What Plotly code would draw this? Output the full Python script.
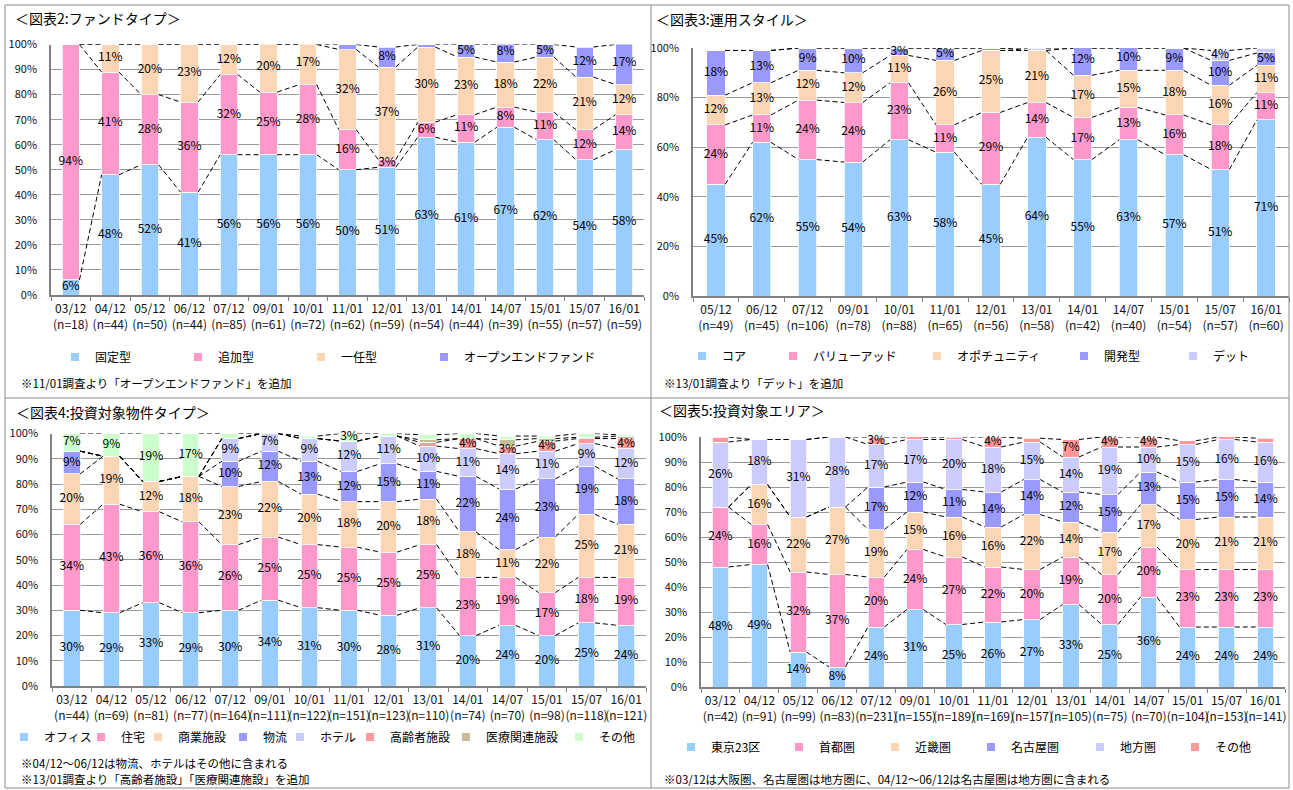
import plotly.graph_objects as go

FONT = "Noto Sans CJK JP"
W, H = 1293, 790

# ---------------- 図表2: ファンドタイプ ----------------
fund_periods = ["03/12", "04/12", "05/12", "06/12", "07/12", "09/01", "10/01", "11/01",
                "12/01", "13/01", "14/01", "14/07", "15/01", "15/07", "16/01"]
fund_n = [18, 44, 50, 44, 85, 61, 72, 62, 59, 54, 44, 39, 55, 57, 59]
fund_fixed = [6, 48, 52, 41, 56, 56, 56, 50, 51, 63, 61, 67, 62, 54, 58]
fund_additional = [94, 41, 28, 36, 32, 25, 28, 16, 3, 6, 11, 8, 11, 12, 14]
fund_discretionary = [0, 11, 20, 23, 12, 20, 17, 32, 37, 30, 23, 18, 22, 21, 12]
fund_open_end = [0, 0, 0, 0, 0, 0, 0, 2, 8, 1, 5, 8, 5, 12, 17]

# ---------------- 図表3: 運用スタイル ----------------
style_periods = ["05/12", "06/12", "07/12", "09/01", "10/01", "11/01", "12/01", "13/01",
                 "14/01", "14/07", "15/01", "15/07", "16/01"]
style_n = [49, 45, 106, 78, 88, 65, 56, 58, 42, 40, 54, 57, 60]
style_core = [45, 62, 55, 54, 63, 58, 45, 64, 55, 63, 57, 51, 71]
style_value_add = [24, 11, 24, 24, 23, 11, 29, 14, 17, 13, 16, 18, 11]
style_opportunity = [12, 13, 12, 12, 11, 26, 25, 21, 17, 15, 18, 16, 11]
style_development = [18, 13, 9, 10, 3, 5, 1, 0, 12, 10, 9, 10, 5]
style_debt = [0, 0, 0, 0, 0, 0, 0, 1, 0, 0, 0, 4, 2]

# ---------------- 図表4: 投資対象物件タイプ ----------------
prop_periods = fund_periods
prop_n = [44, 69, 81, 77, 164, 111, 122, 151, 123, 110, 74, 70, 98, 118, 121]
prop_office = [30, 29, 33, 29, 30, 34, 31, 30, 28, 31, 20, 24, 20, 25, 24]
prop_residential = [34, 43, 36, 36, 26, 25, 25, 25, 25, 25, 23, 19, 17, 18, 19]
prop_retail = [20, 19, 12, 18, 23, 22, 20, 18, 20, 18, 18, 11, 22, 25, 21]
prop_logistics = [9, 0, 0, 0, 10, 12, 13, 12, 15, 11, 22, 24, 23, 19, 18]
prop_hotel = [0, 0, 0, 0, 9, 7, 9, 12, 11, 10, 11, 14, 11, 9, 12]
prop_senior = [0, 0, 0, 0, 0, 0, 0, 0, 0, 1.5, 4, 3, 4, 2, 4]
prop_medical = [0, 0, 0, 0, 0, 0, 0, 0, 0, 1, 0, 2.5, 1, 0.5, 1]
prop_other = [7, 9, 19, 17, 2, 0, 1, 3, 1, 2, 2, 1.5, 1, 1.5, 0.5]

# ---------------- 図表5: 投資対象エリア ----------------
area_periods = fund_periods
area_n = [42, 91, 99, 83, 231, 155, 189, 169, 157, 105, 75, 70, 104, 153, 141]
area_tokyo23 = [48, 49, 14, 8, 24, 31, 25, 26, 27, 33, 25, 36, 24, 24, 24]
area_metro = [24, 16, 32, 37, 20, 24, 27, 22, 20, 19, 20, 20, 23, 23, 23]
area_kinki = [0, 16, 22, 27, 19, 15, 16, 16, 22, 14, 17, 17, 20, 21, 21]
area_nagoya = [0, 0, 0, 0, 17, 12, 11, 14, 14, 12, 15, 13, 15, 15, 14]
area_regional = [26, 18, 31, 28, 17, 17, 20, 18, 15, 14, 19, 10, 15, 16, 16]
area_other = [2, 0, 0, 0, 3, 1.5, 1, 4, 1.5, 7, 4, 4, 1.5, 1.5, 1.5]

BLUE, PINK, PEACH = "#99CCFF", "#FF99CC", "#FCD5B4"
SLATE, LAVENDER, SALMON = "#9999FF", "#CCCCFF", "#FF9999"
KHAKI, MINT = "#C4BD97", "#CCFFCC"

panels = [
    dict(
        title="＜図表2:ファンドタイプ＞", title_xy=(13, 18),
        periods=fund_periods, counts=fund_n,
        series=[("固定型", BLUE, fund_fixed), ("追加型", PINK, fund_additional),
                ("一任型", PEACH, fund_discretionary),
                ("オープンエンドファンド", SLATE, fund_open_end)],
        box=(51, 644, 44.5, 295), dtick=10, bar_width=0.44,
        legend_x=[95, 218, 341, 464], legend_y=357,
        notes=[("※11/01調査より「オープンエンドファンド」を追加", 19, 383)],
    ),
    dict(
        title="＜図表3:運用スタイル＞", title_xy=(654, 19),
        periods=style_periods, counts=style_n,
        series=[("コア", BLUE, style_core), ("バリューアッド", PINK, style_value_add),
                ("オポチュニティ", PEACH, style_opportunity),
                ("開発型", SLATE, style_development), ("デット", LAVENDER, style_debt)],
        box=(693, 1289, 48, 296), dtick=20, bar_width=0.4,
        legend_x=[722, 813, 957, 1104, 1213], legend_y=356,
        notes=[("※13/01調査より「デット」を追加", 662, 383)],
    ),
    dict(
        title="＜図表4:投資対象物件タイプ＞", title_xy=(14, 412),
        periods=prop_periods, counts=prop_n,
        series=[("オフィス", BLUE, prop_office), ("住宅", PINK, prop_residential),
                ("商業施設", PEACH, prop_retail), ("物流", SLATE, prop_logistics),
                ("ホテル", LAVENDER, prop_hotel), ("高齢者施設", SALMON, prop_senior),
                ("医療関連施設", KHAKI, prop_medical), ("その他", MINT, prop_other)],
        box=(52, 646, 433.5, 686), dtick=10, bar_width=0.42,
        legend_x=[44, 121, 178, 263, 320, 390, 486, 599], legend_y=737,
        notes=[("※04/12～06/12は物流、ホテルはその他に含まれる", 19, 763),
               ("※13/01調査より「高齢者施設」「医療関連施設」を追加", 19, 779)],
    ),
    dict(
        title="＜図表5:投資対象エリア＞", title_xy=(657, 410),
        periods=area_periods, counts=area_n,
        series=[("東京23区", BLUE, area_tokyo23), ("首都圏", PINK, area_metro),
                ("近畿圏", PEACH, area_kinki), ("名古屋圏", SLATE, area_nagoya),
                ("地方圏", LAVENDER, area_regional), ("その他", SALMON, area_other)],
        box=(701, 1285, 437, 687), dtick=10, bar_width=0.42,
        legend_x=[711, 819, 915, 1011, 1120, 1215], legend_y=747,
        notes=[("※03/12は大阪圏、名古屋圏は地方圏に、04/12～06/12は名古屋圏は地方圏に含まれる",
                662, 779)],
    ),
]


def fx(px):
    return px / W


def fy(py):
    return 1 - py / H


fig = go.Figure()
layout = dict(
    width=W, height=H, autosize=False,
    margin=dict(l=0, r=0, t=0, b=0, autoexpand=False),
    paper_bgcolor="white", plot_bgcolor="white",
    barmode="stack", showlegend=True,
    font=dict(family=FONT, color="#000000", size=11),
    annotations=[], shapes=[],
)

legend_no = 0
for k, p in enumerate(panels, start=1):
    xa = "x" if k == 1 else f"x{k}"
    ya = "y" if k == 1 else f"y{k}"
    n = len(p["periods"])
    xs = list(range(n))
    w = p["bar_width"]

    base = [0.0] * n
    tops, label_sets = [], []
    for name, color, vals in p["series"]:
        fig.add_bar(
            x=xs, y=vals, width=w, xaxis=xa, yaxis=ya, name=name,
            marker=dict(color=color, line=dict(color="white", width=0.8)),
            showlegend=False, hoverinfo="skip",
        )
        mids = [b + v / 2 for b, v in zip(base, vals)]
        texts = [f"{v:g}%" if v >= 3 else "" for v in vals]
        label_sets.append((mids, texts))
        base = [b + v for b, v in zip(base, vals)]
        tops.append(list(base))

    # dashed series lines joining the top of each segment between neighbouring bars
    for top in tops:
        lx, ly = [], []
        for i in range(n - 1):
            lx += [i + w / 2, i + 1 - w / 2, None]
            ly += [min(top[i], 100), min(top[i + 1], 100), None]
        fig.add_scatter(
            x=lx, y=ly, xaxis=xa, yaxis=ya, mode="lines",
            line=dict(color="#000000", width=1, dash="5px,3px"),
            showlegend=False, hoverinfo="skip",
        )

    # data labels
    for mids, texts in label_sets:
        fig.add_scatter(
            x=xs, y=mids, text=texts, mode="text", xaxis=xa, yaxis=ya,
            textfont=dict(family=FONT, size=12, color="#000000"),
            showlegend=False, hoverinfo="skip", cliponaxis=False,
        )

    # one legend per entry so each sits at its own spot below the chart
    for (name, color, _), tx in zip(p["series"], p["legend_x"]):
        legend_no += 1
        lname = "legend" if legend_no == 1 else f"legend{legend_no}"
        fig.add_scatter(
            x=[None], y=[None], xaxis=xa, yaxis=ya, mode="markers", name=name,
            marker=dict(symbol="square", size=8, color=color),
            legend=lname, showlegend=True,
        )
        layout[lname] = dict(
            x=fx(tx - 40), y=fy(p["legend_y"]), xanchor="left", yanchor="middle",
            orientation="h", bgcolor="rgba(0,0,0,0)", borderwidth=0,
            font=dict(family=FONT, size=12, color="#000000"),
        )

    x0, x1, y0, y1 = p["box"]
    ticktext = [f"{d}<br>(n={c})" for d, c in zip(p["periods"], p["counts"])]
    layout["xaxis" if k == 1 else f"xaxis{k}"] = dict(
        domain=[fx(x0), fx(x1)], anchor=ya, range=[-0.5, n - 0.5],
        tickmode="array", tickvals=xs, ticktext=ticktext, ticks="", tickangle=0,
        tickfont=dict(family=FONT, size=12, color="#111111"),
        ticklabelstandoff=2, automargin=False,
        showline=True, linecolor="#808080", linewidth=1.5,
        showgrid=False, zeroline=False, fixedrange=True,
        minor=dict(tickmode="linear", tick0=0.5, dtick=1, ticks="outside",
                   ticklen=4, tickcolor="#808080", tickwidth=1, showgrid=False),
    )
    layout["yaxis" if k == 1 else f"yaxis{k}"] = dict(
        domain=[fy(y1), fy(y0)], anchor=xa, range=[0, 100],
        tickmode="linear", tick0=0, dtick=p["dtick"], ticksuffix="%",
        tickfont=dict(family=FONT, size=11, color="#111111"),
        ticklabelstandoff=10, ticks="", automargin=False,
        showline=True, linecolor="#808080", linewidth=1.5,
        showgrid=True, gridcolor="#9A9A9A", gridwidth=1,
        zeroline=False, fixedrange=True,
    )

    tx, ty = p["title_xy"]
    layout["annotations"].append(dict(
        text=p["title"], x=fx(tx), y=fy(ty), xref="paper", yref="paper",
        xanchor="left", yanchor="middle", showarrow=False,
        font=dict(family=FONT, size=14, color="#000000"),
    ))
    for text, nx, ny in p["notes"]:
        layout["annotations"].append(dict(
            text=text, x=fx(nx), y=fy(ny), xref="paper", yref="paper",
            xanchor="left", yanchor="middle", showarrow=False,
            font=dict(family=FONT, size=11.5, color="#000000"),
        ))

# panel frame: outer box plus the two dividers
frame = dict(type="line", xref="paper", yref="paper",
             line=dict(color="#8C8C8C", width=1), layer="above")
for (ax, ay, bx, by) in [(5, 5, 1289, 5), (5, 788, 1289, 788), (5, 5, 5, 788),
                         (1289, 5, 1289, 788), (651, 5, 651, 788), (5, 398, 1289, 398)]:
    layout["shapes"].append(dict(frame, x0=fx(ax), y0=fy(ay), x1=fx(bx), y1=fy(by)))

fig.update_layout(**layout)
fig.write_html("out.html")
